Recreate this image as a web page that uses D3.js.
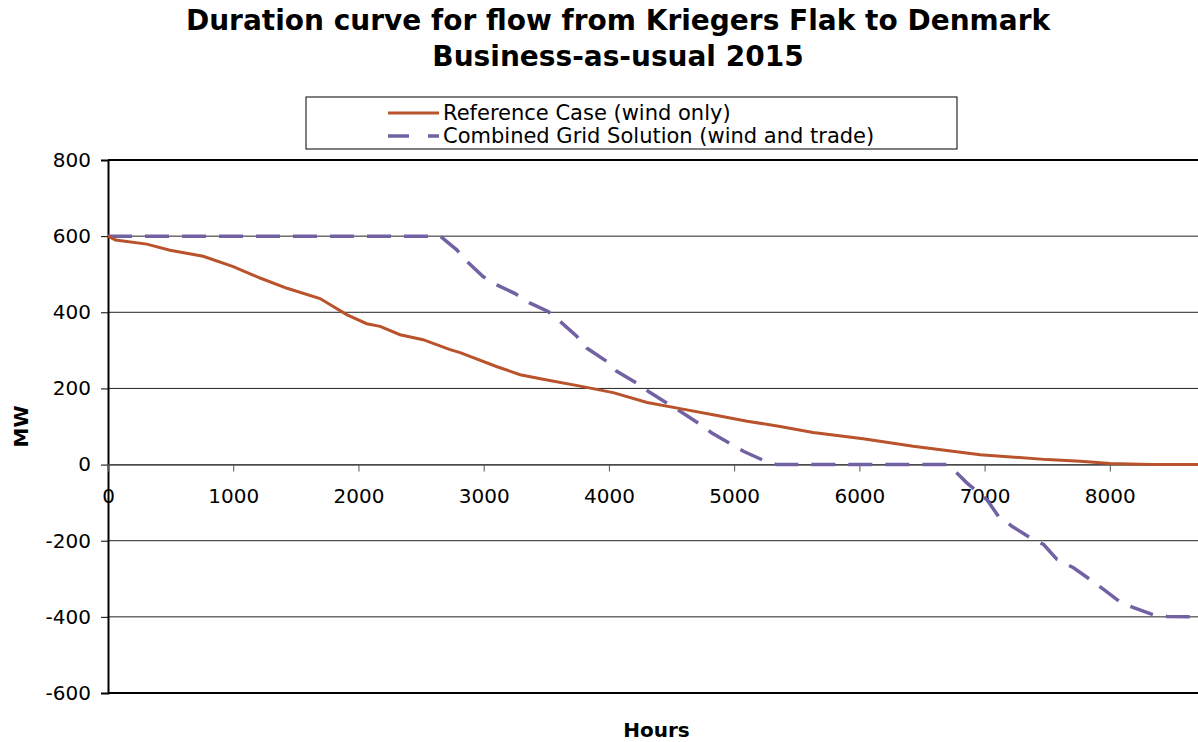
<html>
<head>
<meta charset="utf-8">
<script src="https://d3js.org/d3.v7.min.js"></script>
<style>
    body { margin: 0; background: #fff; }
    text { font-family: "DejaVu Sans", Verdana, sans-serif; fill: #000; }
    .title { font-weight: bold; font-size: 28px; }
    .axis-title { font-weight: bold; font-size: 20px; }
    .tick-label { font-size: 20px; }
    .legend-label { font-size: 21px; }
    .grid { stroke: #222; stroke-width: 1px; }
</style>
</head>
<body>
<svg id="chart" width="1198" height="742"></svg>
<script>
    // Reference Case (wind only) - hours, MW
    const refHours = [0, 60, 310, 495, 760, 1000, 1214, 1430, 1693, 1906, 2066, 2173, 2332, 2516, 2732, 2812, 3107, 3291, 3506, 3770, 4034, 4305, 4569, 4832, 5104, 5367, 5631, 6030, 6430, 6965, 7500, 7764, 8003, 8323, 8760];
    const refMW = [600, 590, 579, 563, 547, 520, 490, 463, 436, 394, 370, 363, 341, 328, 302, 294, 257, 236, 222, 206, 189, 163, 147, 131, 114, 100, 84, 68, 48, 26, 13, 9, 3, 0, 0];

    // Combined Grid Solution (wind and trade) - hours, MW
    const cgsHours = [0, 2652, 2785, 2865, 2995, 3105, 3251, 3371, 3514, 3610, 3743, 3823, 3983, 4063, 4223, 4316, 4462, 4569, 4713, 4822, 4968, 5074, 5234, 5340, 6700, 6791, 6858, 7018, 7111, 7218, 7364, 7471, 7578, 7710, 7843, 7950, 8083, 8190, 8349, 8456, 8760];
    const cgsMW = [600, 600, 564, 534, 494, 472, 449, 424, 402, 376, 337, 306, 271, 245, 214, 192, 162, 140, 109, 83, 55, 35, 11, 0, 0, -26, -48, -92, -136, -162, -192, -210, -249, -271, -302, -328, -361, -376, -395, -399, -400];

    const xTicks = [0, 1000, 2000, 3000, 4000, 5000, 6000, 7000, 8000];
    const yTicks = [-600, -400, -200, 0, 200, 400, 600, 800];

    const seriesNames = ['Reference Case (wind only)', 'Combined Grid Solution (wind and trade)'];
    const seriesColors = ['#b8532c', '#7262a4'];

    const svg = d3.select('#chart');
    const margin = { left: 108, top: 160, right: -7, bottom: 49 };
    const width = 1198 - margin.left - margin.right;
    const height = 742 - margin.top - margin.bottom;

    const x = d3.scaleLinear().domain([0, 8760]).range([0, width]);
    const y = d3.scaleLinear().domain([-600, 800]).range([height, 0]);

    const plot = svg.append('g').attr('transform', `translate(${margin.left}, ${margin.top})`);

    // title
    const title = svg.append('text').attr('class', 'title').attr('text-anchor', 'middle');
    title.append('tspan').attr('x', 618).attr('y', 30).text('Duration curve for flow from Kriegers Flak to Denmark');
    title.append('tspan').attr('x', 618).attr('y', 66).text('Business-as-usual 2015');

    // gridlines
    plot.selectAll('line.grid')
        .data(yTicks.filter(d => d !== -600 && d !== 800))
        .join('line')
        .attr('class', 'grid')
        .attr('x1', 0).attr('x2', width)
        .attr('y1', d => y(d)).attr('y2', d => y(d));

    // top and bottom borders
    plot.append('line').attr('x1', 0).attr('x2', width).attr('y1', y(800)).attr('y2', y(800))
        .attr('stroke', '#000').attr('stroke-width', 2);
    plot.append('line').attr('x1', 0).attr('x2', width).attr('y1', y(-600)).attr('y2', y(-600))
        .attr('stroke', '#000').attr('stroke-width', 2);

    // y axis
    const yAxis = plot.append('g')
        .call(d3.axisLeft(y).tickValues(yTicks).tickSize(7).tickPadding(10).tickFormat(d => String(d)));
    yAxis.attr('font-size', null).attr('font-family', null);
    yAxis.select('.domain').attr('stroke', '#000').attr('stroke-width', 2);
    yAxis.selectAll('.tick line').attr('stroke', '#000');
    yAxis.selectAll('.tick text').attr('class', 'tick-label');

    // x axis through zero
    const xAxis = plot.append('g')
        .attr('transform', `translate(0, ${y(0)})`)
        .call(d3.axisBottom(x).tickValues(xTicks).tickSize(7).tickPadding(17).tickFormat(d => String(d)));
    xAxis.attr('font-size', null).attr('font-family', null);
    xAxis.select('.domain').attr('stroke', '#555').attr('stroke-width', 1.5);
    xAxis.selectAll('.tick line').attr('stroke', '#555');
    xAxis.selectAll('.tick text').attr('class', 'tick-label');

    // lines
    const line = d3.line().x(d => x(d[0])).y(d => y(d[1]));

    plot.append('path')
        .datum(cgsHours.map((h, i) => [h, cgsMW[i]]))
        .attr('fill', 'none')
        .attr('stroke', seriesColors[1])
        .attr('stroke-width', 3.5)
        .attr('stroke-dasharray', '24 13')
        .attr('d', line);

    plot.append('path')
        .datum(refHours.map((h, i) => [h, refMW[i]]))
        .attr('fill', 'none')
        .attr('stroke', seriesColors[0])
        .attr('stroke-width', 3)
        .attr('d', line);

    // axis titles
    svg.append('text').attr('class', 'axis-title')
        .attr('text-anchor', 'middle')
        .attr('transform', `translate(28, ${margin.top + height / 2}) rotate(-90)`)
        .text('MW');
    svg.append('text').attr('class', 'axis-title')
        .attr('text-anchor', 'middle')
        .attr('x', margin.left + width / 2).attr('y', 737)
        .text('Hours');

    // legend
    const legend = svg.append('g').attr('transform', 'translate(306, 97)');
    legend.append('rect').attr('width', 651).attr('height', 52)
        .attr('fill', '#fff').attr('stroke', '#000').attr('stroke-width', 1);
    seriesNames.forEach((name, i) => {
        const ly = 16 + i * 23;
        legend.append('line')
            .attr('x1', 82).attr('x2', 133).attr('y1', ly).attr('y2', ly)
            .attr('stroke', seriesColors[i]).attr('stroke-width', i === 0 ? 3 : 3.5)
            .attr('stroke-dasharray', i === 0 ? null : '21 19');
        legend.append('text').attr('class', 'legend-label')
            .attr('x', 137).attr('y', ly + 7)
            .text(name);
    });
</script>
</body>
</html>
